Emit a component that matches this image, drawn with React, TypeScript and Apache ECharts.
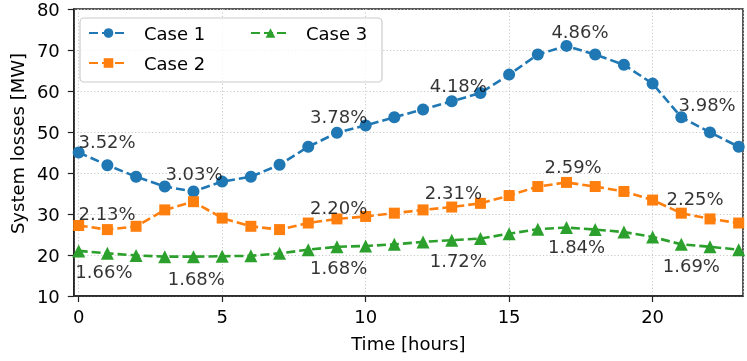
import React, { useEffect, useRef } from "react";
import * as echarts from "echarts";

const hours = [0, 1, 2, 3, 4, 5, 6, 7, 8, 9, 10, 11, 12, 13, 14, 15, 16, 17, 18, 19, 20, 21, 22, 23];
const case1 = [45.0, 41.9, 39.1, 36.7, 35.5, 37.9, 39.1, 42.0, 46.4, 49.8, 51.6, 53.6, 55.5, 57.5, 59.5, 64.0, 68.9, 71.0, 68.9, 66.4, 61.8, 53.6, 49.9, 46.4];
const case2 = [27.2, 26.2, 27.0, 31.0, 33.0, 29.0, 27.0, 26.2, 27.8, 28.8, 29.4, 30.2, 31.0, 31.7, 32.6, 34.5, 36.7, 37.7, 36.7, 35.5, 33.4, 30.2, 28.8, 27.8];
const case3 = [21.0, 20.4, 19.9, 19.6, 19.6, 19.7, 19.8, 20.4, 21.3, 22.0, 22.2, 22.6, 23.2, 23.6, 24.0, 25.2, 26.3, 26.7, 26.2, 25.6, 24.4, 22.6, 22.0, 21.3];

// annotation anchors (data coordinates of text centres) and their texts
const annX = [0.99, 4.02, 9.06, 13.23, 17.47, 21.9, 0.99, 9.06, 13.06, 17.23, 21.48, 0.88, 4.1, 9.06, 13.23, 17.35, 21.35];
const annY = [47.8, 39.8, 53.8, 61.3, 74.6, 56.6, 30.05, 31.6, 35.3, 41.6, 33.7, 16.0, 14.3, 17.0, 18.6, 22.1, 17.5];
const annText = ["3.52%", "3.03%", "3.78%", "4.18%", "4.86%", "3.98%", "2.13%", "2.20%", "2.31%", "2.59%", "2.25%", "1.66%", "1.68%", "1.68%", "1.72%", "1.84%", "1.69%"];

const seriesNames = ["Case 1", "Case 2", "Case 3"];
const yTicks = [10, 80];
const xLimits = [-0.17, 23.15];
const xAxisName = "Time [hours]";
const yAxisName = "System losses [MW]";

const FONT = "DejaVu Sans";
const COLORS = ["#1f77b4", "#ff7f0e", "#2ca02c"];

export default function App() {
  const ref = useRef<HTMLDivElement>(null);
  useEffect(() => {
    if (!ref.current) return;
    const chart = echarts.init(ref.current, undefined, { renderer: "svg" });
    const mk = (vals: number[]) => vals.map((v, i) => [hours[i], v]);
    const symbols = ["circle", "rect", "triangle"];
    const sizes = [12, 11, 13];
    const lineSeries = [case1, case2, case3].map((vals, i) => ({
      name: seriesNames[i],
      type: "line",
      data: mk(vals),
      symbol: symbols[i],
      symbolSize: sizes[i],
      showSymbol: true,
      color: COLORS[i],
      itemStyle: { color: COLORS[i] },
      lineStyle: { color: COLORS[i], width: 2.6, type: [9, 4] },
      z: 2,
    }));
    const annSeries = {
      type: "scatter",
      name: "ann",
      data: annX.map((x, i) => ({ value: [x, annY[i]], name: annText[i] })),
      symbolSize: 1,
      itemStyle: { color: "rgba(0,0,0,0)" },
      label: {
        show: true,
        position: "inside",
        formatter: (p: any) => p.name,
        color: "#000",
        fontFamily: FONT,
        fontSize: 18,
      },
      silent: true,
      z: 2,
    };
    const textStyle = { fontFamily: FONT, fontSize: 18, color: "#000", lineHeight: 20, padding: [0, 0, 0, 11] };
    chart.setOption({
      animation: false,
      grid: {
        left: 70,
        right: 4,
        top: 7,
        bottom: 65,
        show: true,
        borderColor: "#222",
        borderWidth: 1.5,
        backgroundColor: "transparent",
      },
      legend: [
        {
          data: [seriesNames[0], seriesNames[1]],
          orient: "vertical",
          left: 88,
          top: 23,
          itemWidth: 39,
          itemHeight: 12,
          itemGap: 10,
          padding: 0,
          selectedMode: false,
          textStyle,
          z: 20,
        },
        {
          data: [seriesNames[2]],
          orient: "vertical",
          left: 250,
          top: 23,
          itemWidth: 39,
          itemHeight: 12,
          itemGap: 10,
          padding: 0,
          selectedMode: false,
          textStyle,
          z: 20,
        },
      ],
      graphic: [
        {
          type: "rect",
          shape: { x: 80, y: 18, width: 302, height: 64, r: 4 },
          style: { fill: "rgba(255,255,255,0.8)", stroke: "#cccccc", lineWidth: 1.2 },
          z: 10,
          silent: true,
        },
      ],
      xAxis: {
        type: "value",
        min: xLimits[0],
        max: xLimits[1],
        name: xAxisName,
        nameLocation: "middle",
        nameGap: 38,
        nameTextStyle: { fontFamily: FONT, fontSize: 18, color: "#000" },
        axisLine: { show: true, onZero: false, lineStyle: { color: "#222", width: 1.5 } },
        axisTick: { show: true, length: 6, lineStyle: { color: "#222", width: 1.2 } },
        axisLabel: {
          fontFamily: FONT,
          fontSize: 18,
          color: "#000",
          margin: 11,
          showMinLabel: false,
          showMaxLabel: false,
          formatter: (v: number) => (Math.abs(v % 5) < 1e-9 ? String(v) : ""),
        },
        splitLine: { show: true, lineStyle: { color: "#c8c8c8", width: 1, type: [1.2, 2.2] } },
      },
      yAxis: {
        type: "value",
        min: yTicks[0],
        max: yTicks[1],
        interval: 10,
        name: yAxisName,
        nameLocation: "middle",
        nameGap: 47,
        nameTextStyle: { fontFamily: FONT, fontSize: 18, color: "#000", padding: [0, 0, 0, 18] },
        axisLine: { show: true, onZero: false, lineStyle: { color: "#222", width: 1.5 } },
        axisTick: { show: true, length: 6, lineStyle: { color: "#222", width: 1.2 } },
        axisLabel: { fontFamily: FONT, fontSize: 18, color: "#000", margin: 14 },
        splitLine: { show: true, lineStyle: { color: "#c8c8c8", width: 1, type: [1.2, 2.2] } },
      },
      series: [...lineSeries, annSeries],
    });
    return () => chart.dispose();
  }, []);
  return <div ref={ref} style={{ width: 747, height: 361, position: "fixed", left: 0, top: 0 }} />;
}
